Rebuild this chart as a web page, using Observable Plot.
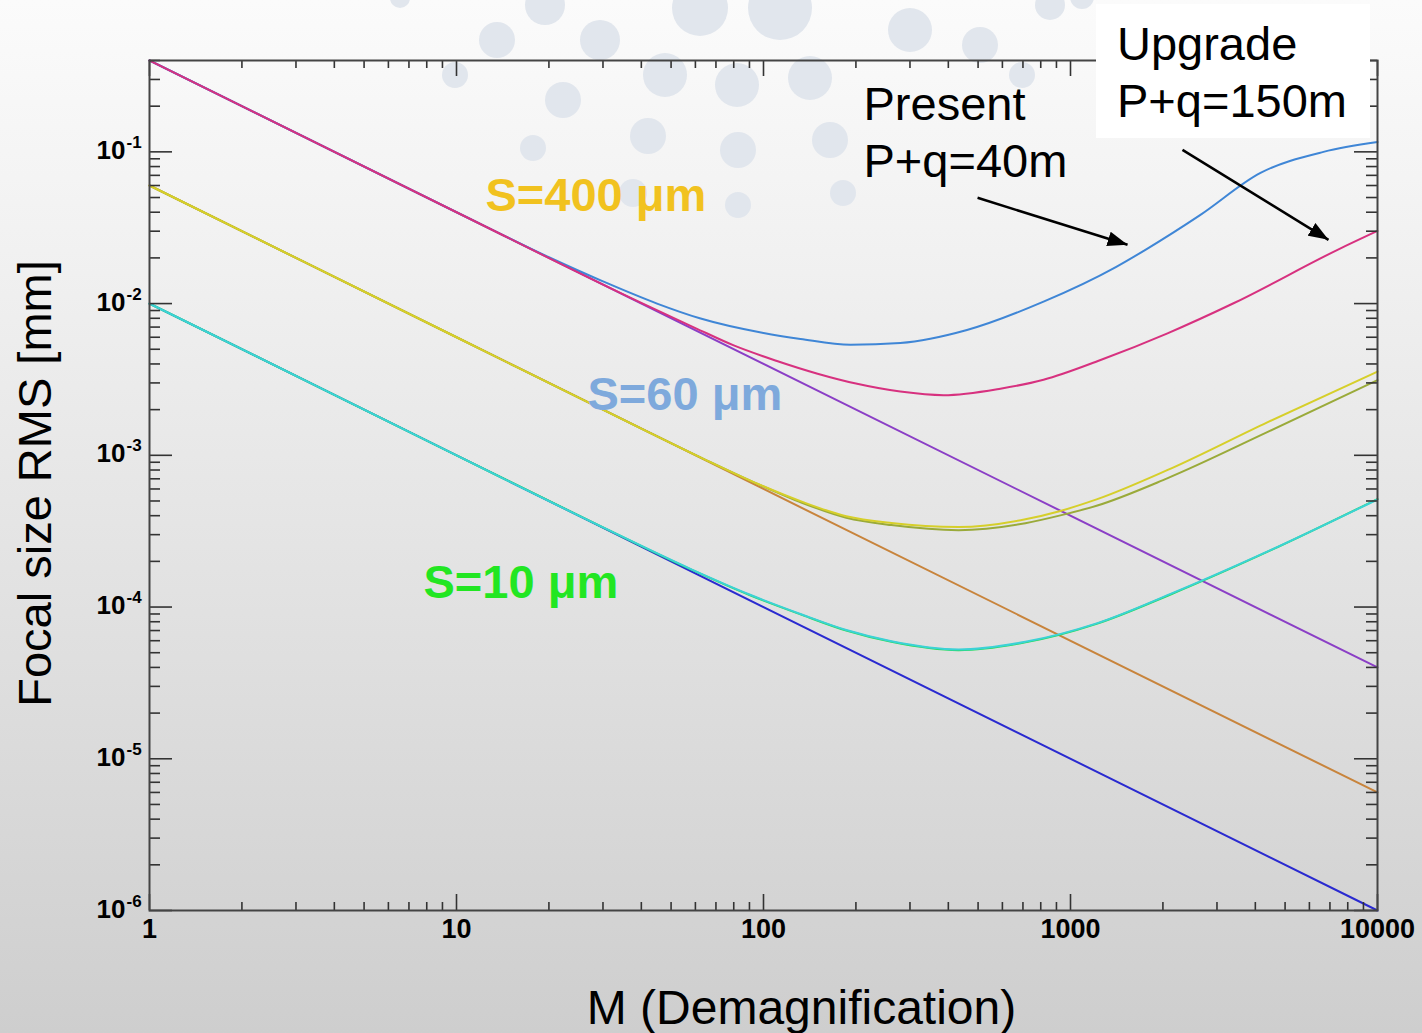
<!DOCTYPE html>
<html>
<head>
<meta charset="utf-8">
<script src="https://cdn.jsdelivr.net/npm/d3@7"></script>
<script src="https://cdn.jsdelivr.net/npm/@observablehq/plot@0.6"></script>
<style>
  html, body { margin: 0; padding: 0; }
  body {
    width: 1422px; height: 1033px; overflow: hidden; position: relative;
    background: linear-gradient(to bottom, #fbfbfb 0%, #f2f2f2 22%, #e3e3e3 55%, #cecece 100%);
    font-family: "Liberation Sans", Arial, sans-serif;
  }
  #backdrop { position: absolute; left: 0; top: 0; }
  #chart { position: absolute; left: 0; top: 0; }
  #upgrade {
    position: absolute; left: 1096px; top: 4px; width: 274px; height: 134px;
    background: #ffffff; box-sizing: border-box; padding: 11px 0 0 21px;
    font-size: 47px; line-height: 57px; color: #000; white-space: pre;
  }
</style>
</head>
<body>
<!-- slide template decoration: faint dots behind the plot -->
<svg id="backdrop" width="1422" height="240">
  <g fill="#e1e6ed">
    <circle cx="400" cy="-2" r="10"/><circle cx="455" cy="75" r="13"/><circle cx="497" cy="40" r="18"/>
    <circle cx="545" cy="5" r="20"/><circle cx="600" cy="40" r="20"/><circle cx="533" cy="148" r="13"/>
    <circle cx="563" cy="100" r="18"/><circle cx="648" cy="136" r="18"/><circle cx="665" cy="75" r="22"/>
    <circle cx="700" cy="8" r="28"/><circle cx="737" cy="85" r="22"/><circle cx="738" cy="150" r="18"/>
    <circle cx="738" cy="205" r="13"/><circle cx="780" cy="8" r="32"/><circle cx="810" cy="78" r="22"/>
    <circle cx="830" cy="140" r="18"/><circle cx="843" cy="193" r="13"/><circle cx="910" cy="30" r="22"/>
    <circle cx="980" cy="45" r="18"/><circle cx="1022" cy="75" r="13"/><circle cx="1050" cy="5" r="15"/>
    <circle cx="633" cy="193" r="14"/><circle cx="1082" cy="-3" r="12"/>
  </g>
</svg>
<div id="chart"></div>
<div id="upgrade">Upgrade
P+q=150m</div>
<script>
// ---- data: focal size RMS [mm] versus demagnification M ----

// geometric demagnification only (f = S / M), one per source size
const pureM = [1, 10000];
const pureS400 = [0.4, 4e-5];
const pureS60 = [0.06, 6e-6];
const pureS10 = [0.01, 1e-6];

// S = 400 um, present beamline (P+q = 40 m)
const presentS400M = [1, 10, 20, 30, 45, 62, 100, 132, 192, 279, 460, 817, 1405, 1754, 2650, 4158, 6670, 10000];
const presentS400F = [0.4, 0.040, 0.0202, 0.0140, 0.0100, 8.0e-3, 6.4e-3, 5.85e-3, 5.35e-3, 5.5e-3, 6.7e-3, 0.0103, 0.0174, 0.0226, 0.0384, 0.0726, 0.100, 0.116];

// S = 400 um, upgrade beamline (P+q = 150 m)
const upgradeS400M = [1, 10, 40, 60, 80, 110, 150, 200, 279, 386, 591, 817, 1253, 2070, 3397, 7410, 10000];
const upgradeS400F = [0.4, 0.040, 0.0101, 6.9e-3, 5.3e-3, 4.2e-3, 3.45e-3, 2.97e-3, 2.63e-3, 2.49e-3, 2.75e-3, 3.15e-3, 4.25e-3, 6.37e-3, 0.01005, 0.0226, 0.0301];

// S = 60 um, two beamline lengths
const s60M = [1, 10, 40, 64, 96, 134, 186, 261, 432, 713, 927, 1216, 2065, 4374, 10000];
const s60PresentF = [0.06, 6.0e-3, 1.5e-3, 9.45e-4, 6.47e-4, 4.93e-4, 3.97e-4, 3.58e-4, 3.37e-4, 3.79e-4, 4.3e-4, 5.12e-4, 7.98e-4, 1.65e-3, 3.56e-3];
const s60UpgradeF = [0.06, 6.0e-3, 1.5e-3, 9.45e-4, 6.45e-4, 4.85e-4, 3.88e-4, 3.47e-4, 3.21e-4, 3.57e-4, 4.02e-4, 4.65e-4, 7.05e-4, 1.42e-3, 3.13e-3];

// S = 10 um, two beamline lengths (nearly coincident)
const s10M = [1, 10, 30, 58, 90, 134, 186, 261, 432, 713, 1216, 2118, 4480, 10000];
const s10PresentF = [0.01, 1e-3, 3.35e-4, 1.77e-4, 1.2e-4, 8.85e-5, 7.0e-5, 5.9e-5, 5.2e-5, 5.85e-5, 7.75e-5, 1.21e-4, 2.36e-4, 5.15e-4];
const s10UpgradeF = [0.01, 1e-3, 3.35e-4, 1.78e-4, 1.21e-4, 8.9e-5, 7.05e-5, 5.95e-5, 5.25e-5, 5.9e-5, 7.8e-5, 1.22e-4, 2.37e-4, 5.12e-4];

// axis ticks
const xTicks = [1, 10, 100, 1000, 10000];
const xTickLabels = ["1", "10", "100", "1000", "10000"];
const yDecades = [-6, -5, -4, -3, -2, -1];

// annotation arrows (tail M, tail f, head M, head f)
const arrowPresent = [498, 0.0498, 1534, 0.0244];
const arrowUpgrade = [2316, 0.103, 6925, 0.0263];

// ---- layout ----
const W = 1422, H = 1033;
const mL = 149, mR = 45, mT = 60, mB = 123;
const plotW = W - mL - mR, plotH = H - mT - mB;
const font = "Liberation Sans, Arial, Helvetica, sans-serif";
const tickColor = "#333";

const toRows = (ms, fs) => ms.map((m, i) => ({m, f: fs[i]}));

const yMinor = [];
for (const e of yDecades) for (let k = 2; k <= 9; k++) { const v = k * 10 ** e; if (v <= 0.4) yMinor.push(v); }
const yMajor = yDecades.map(e => 10 ** e);
const xMinor = [];
for (let e = 0; e < 4; e++) for (let k = 2; k <= 9; k++) xMinor.push(k * 10 ** e);

const curves = [
  {rows: toRows(pureM, pureS400), color: "#8b3fc6"},
  {rows: toRows(pureM, pureS60), color: "#c8843c"},
  {rows: toRows(pureM, pureS10), color: "#2a2ad0"},
  {rows: toRows(presentS400M, presentS400F), color: "#3f86d6"},
  {rows: toRows(upgradeS400M, upgradeS400F), color: "#d7317f"},
  {rows: toRows(s60M, s60UpgradeF), color: "#9aaa3a"},
  {rows: toRows(s60M, s60PresentF), color: "#d6cf2a"},
  {rows: toRows(s10M, s10PresentF), color: "#22dd55"},
  {rows: toRows(s10M, s10UpgradeF), color: "#3cd2d6"}
];

const arrows = [arrowPresent, arrowUpgrade].map(a => ({x1: a[0], y1: a[1], x2: a[2], y2: a[3]}));

const chart = Plot.plot({
  width: W, height: H,
  marginLeft: mL, marginRight: mR, marginTop: mT, marginBottom: mB,
  style: {background: "transparent", fontFamily: font, overflow: "visible"},
  x: {type: "log", domain: [1, 10000], axis: null},
  y: {type: "log", domain: [1e-6, 0.4], axis: null},
  marks: [
    ...curves.map(c => Plot.line(c.rows, {x: "m", y: "f", stroke: c.color, strokeWidth: 2, curve: "monotone-x"})),

    // inward ticks on all four sides
    Plot.tickY(yMajor, {y: d => d, insetRight: plotW - 23, stroke: tickColor, strokeWidth: 1.6}),
    Plot.tickY(yMinor, {y: d => d, insetRight: plotW - 11, stroke: tickColor, strokeWidth: 1.6}),
    Plot.tickY(yMajor, {y: d => d, insetLeft: plotW - 23, stroke: tickColor, strokeWidth: 1.6}),
    Plot.tickY(yMinor, {y: d => d, insetLeft: plotW - 11, stroke: tickColor, strokeWidth: 1.6}),
    Plot.tickX(xTicks, {x: d => d, insetTop: plotH - 16, stroke: tickColor, strokeWidth: 1.6}),
    Plot.tickX(xMinor, {x: d => d, insetTop: plotH - 8, stroke: tickColor, strokeWidth: 1.6}),
    Plot.tickX(xTicks, {x: d => d, insetBottom: plotH - 16, stroke: tickColor, strokeWidth: 1.6}),
    Plot.tickX(xMinor, {x: d => d, insetBottom: plotH - 8, stroke: tickColor, strokeWidth: 1.6}),
    Plot.frame({stroke: "#444", strokeWidth: 2}),

    // tick labels
    Plot.text(xTicks, {x: d => d, text: (d, i) => xTickLabels[i], frameAnchor: "bottom", dy: 27,
      lineAnchor: "bottom", fontSize: 27, fontWeight: "bold", fill: "#000", fontFamily: font}),
    Plot.text(yDecades, {y: e => 10 ** e, text: () => "10", frameAnchor: "left", dx: -24, dy: 7,
      textAnchor: "end", lineAnchor: "bottom", fontSize: 26, fontWeight: "bold", fill: "#000", fontFamily: font}),
    Plot.text(yDecades, {y: e => 10 ** e, text: e => String(e), frameAnchor: "left", dx: -23, dy: -4,
      textAnchor: "start", lineAnchor: "bottom", fontSize: 17, fontWeight: "bold", fill: "#000", fontFamily: font}),

    // axis titles
    Plot.text(["M (Demagnification)"], {frameAnchor: "bottom", dx: 38, dy: 113, lineAnchor: "bottom",
      textAnchor: "middle", fontSize: 48, fill: "#000", fontFamily: font}),
    Plot.text(["Focal size RMS [mm]"], {frameAnchor: "left", dx: -99, dy: -2, rotate: -90, lineAnchor: "bottom",
      textAnchor: "middle", fontSize: 47, fill: "#000", fontFamily: font}),

    // source-size labels
    Plot.text(["S=400 μm"], {frameAnchor: "top-left", dx: 336, dy: 150, textAnchor: "start", lineAnchor: "bottom",
      fontSize: 47, fontWeight: "bold", fill: "#f1c21f", fontFamily: font}),
    Plot.text(["S=60 μm"], {frameAnchor: "top-left", dx: 438, dy: 349, textAnchor: "start", lineAnchor: "bottom",
      fontSize: 47, fontWeight: "bold", fill: "#7ea9dc", fontFamily: font}),
    Plot.text(["S=10 μm"], {frameAnchor: "top-left", dx: 274, dy: 537, textAnchor: "start", lineAnchor: "bottom",
      fontSize: 47, fontWeight: "bold", fill: "#22e622", fontFamily: font}),

    // beamline annotation
    Plot.text(["Present\nP+q=40m"], {frameAnchor: "top-left", dx: 714, dy: 116, textAnchor: "start", lineAnchor: "bottom",
      lineHeight: 1.21, fontSize: 47, fill: "#000", fontFamily: font}),
    Plot.link(arrows, {x1: "x1", y1: "y1", x2: "x2", y2: "y2", stroke: "#000", strokeWidth: 2.5, markerEnd: "arrow"})
  ]
});

// solid triangular arrow heads
chart.querySelectorAll("marker").forEach(mk => {
  mk.setAttribute("viewBox", "-20 -8 20 16");
  mk.setAttribute("markerUnits", "userSpaceOnUse");
  mk.setAttribute("markerWidth", "20");
  mk.setAttribute("markerHeight", "16");
  mk.setAttribute("refX", "0");
  mk.setAttribute("refY", "0");
  mk.setAttribute("fill", "#000");
  mk.setAttribute("stroke", "none");
  const p = mk.querySelector("path");
  if (p) p.setAttribute("d", "M-20,-7.5L0,0L-20,7.5Z");
});

document.getElementById("chart").appendChild(chart);
</script>
</body>
</html>
